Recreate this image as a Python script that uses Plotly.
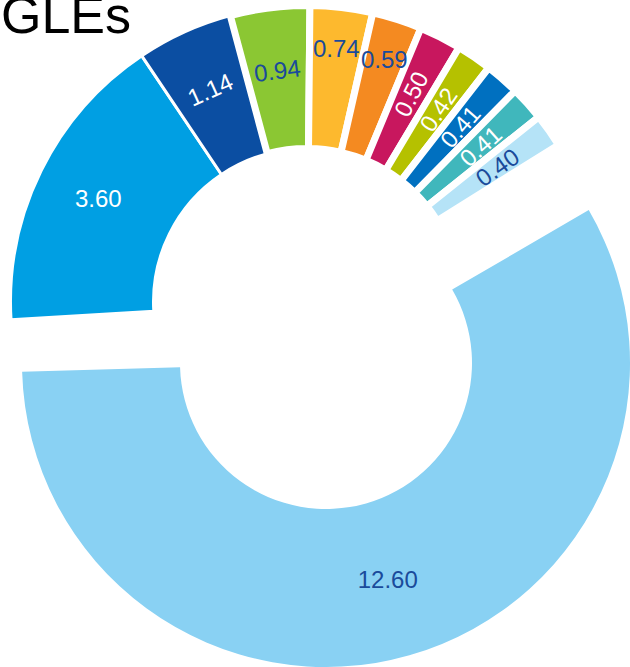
import math
import plotly.graph_objects as go

# Streams per single (values shown on each slice)
categories = ["Single 1", "Single 2", "Single 3", "Single 4", "Single 5", "Single 6",
              "Single 7", "Single 8", "Single 9", "Single 10", "Single 11"]
values = [12.60, 3.60, 1.14, 0.94, 0.74, 0.59, 0.50, 0.42, 0.41, 0.41, 0.40]
slice_colors = ["#89D1F3", "#009FE3", "#0B4EA2", "#8BC733", "#FDB92E", "#F48A21",
                "#C8175E", "#B5C100", "#0070C0", "#40B7BC", "#B5E3F7"]
label_colors = ["#1A4B9B", "#FFFFFF", "#FFFFFF", "#1A4B9B", "#1A4B9B", "#1A4B9B",
                "#FFFFFF", "#FFFFFF", "#FFFFFF", "#FFFFFF", "#1A4B9B"]
# how each slice label sits: h = horizontal, t = tangential, r = radial
label_orient = ["h", "h", "t", "t", "h", "h", "r", "r", "r", "r", "r"]
title_text = "GLEs"

W, H = 630, 667
CLEAR = "rgba(0,0,0,0)"
FONT = "Liberation Sans, Arial, sans-serif"
labels_txt = [f"{v:.2f}" for v in values]
n = len(values)
total = sum(values)

# geometry (pixels): leading slice pulled out below, the others on the ring
BIG_C, BIG_R, BIG_HOLE, BIG_ROT = (326, 363), 304, 146 / 304, 59.8
RING_C, RING_R, RING_HOLE, RING_ROT = (307, 302), 296.5, 153.5 / 296.5, 58
line_w = [0, 3, 3, 7, 7, 7, 7, 7, 7, 7, 7]


def px_domain(c, r):
    """Square pie domain (paper fractions) for a centre/radius in pixels."""
    cx, cy = c
    return dict(x=[(cx - r) / W, (cx + r) / W],
                y=[1 - (cy + r) / H, 1 - (cy - r) / H])


def pie(shown, rotation, hole, domain, with_text):
    idx = range(n)
    return go.Pie(
        labels=categories, values=values, sort=False, direction="clockwise",
        rotation=rotation, hole=hole, domain=domain,
        marker=dict(colors=[slice_colors[i] if i in shown else CLEAR for i in idx],
                    line=dict(color="white",
                              width=[line_w[i] if i in shown else 0 for i in idx])),
        text=[labels_txt[i] if (i in shown and with_text) else "" for i in idx],
        texttemplate="%{text}", textposition="inside",
        insidetextorientation="horizontal",
        textfont=dict(family=FONT, size=24, color=label_colors),
        hoverinfo="skip", showlegend=False,
    )


fig = go.Figure()
fig.add_trace(pie({0}, BIG_ROT, BIG_HOLE, px_domain(BIG_C, BIG_R), True))
fig.add_trace(pie(set(range(1, n)), RING_ROT, RING_HOLE,
                  px_domain(RING_C, RING_R), False))

# ring labels: placed at each slice's mid-angle, same clockwise sweep as the pie
start = 90 - RING_ROT
cum = 0.0
for i, v in enumerate(values):
    mid = start - (cum + v / 2) / total * 360
    cum += v
    if i == 0:
        continue
    o = label_orient[i]
    rho = 255 if (o == "h" and v < 1) else 233
    a = math.radians(mid)
    x = RING_C[0] + rho * math.cos(a)
    y = RING_C[1] - rho * math.sin(a)
    ang = ((mid + 180) % 360) - 180
    textangle = 0 if o == "h" else (-ang if o == "r" else 90 - ang)
    fig.add_annotation(
        text=labels_txt[i], x=x / W, y=1 - y / H, xref="paper", yref="paper",
        xanchor="center", yanchor="middle", showarrow=False, textangle=textangle,
        font=dict(family=FONT, size=24, color=label_colors[i]),
    )

fig.add_annotation(
    text=title_text, xref="paper", yref="paper", x=133 / W, y=1,
    xanchor="right", yanchor="top", yshift=16, showarrow=False,
    font=dict(family=FONT, size=52, color="black"),
)

fig.update_layout(
    width=W, height=H, margin=dict(l=0, r=0, t=0, b=0),
    paper_bgcolor="white", plot_bgcolor="white", showlegend=False,
)

fig.write_html("out.html")
